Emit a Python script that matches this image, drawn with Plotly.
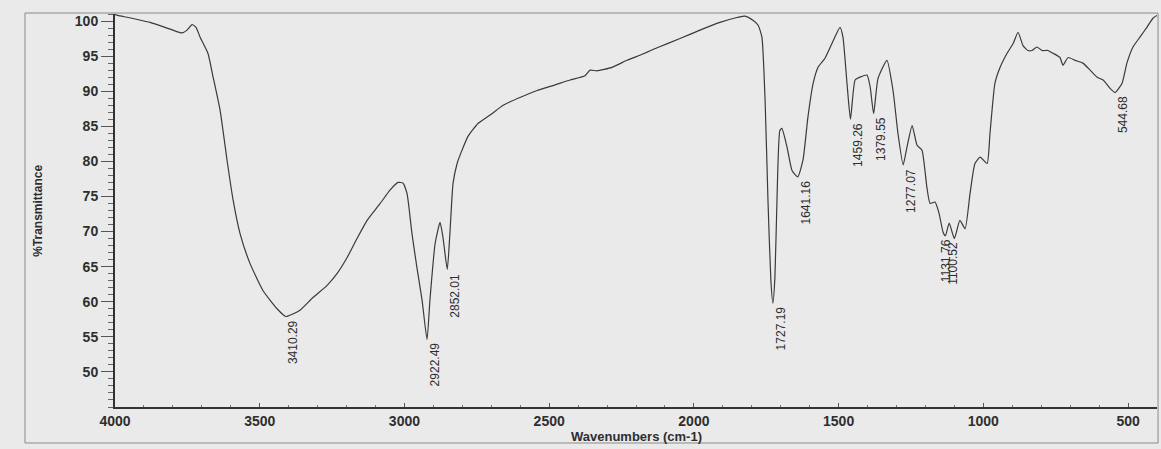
import numpy as np
import plotly.graph_objects as go

# ---- data ----
wavenumber = [4000, 3990, 3879, 3800, 3769, 3751, 3734, 3720, 3706, 3679, 3661, 3637, 3613, 3592,
              3568, 3534, 3489, 3440, 3410, 3361, 3316, 3268, 3233, 3198, 3164, 3129, 3084, 3050,
              3022, 3005, 2991, 2974, 2957, 2939, 2922, 2912, 2894, 2877, 2867, 2852, 2843, 2832,
              2818, 2801, 2780, 2746, 2704, 2659, 2601, 2542, 2487, 2428, 2376, 2359, 2335, 2283,
              2231, 2176, 2127, 2048, 1979, 1910, 1851, 1823, 1796, 1778, 1765, 1754, 1744, 1734,
              1727, 1720, 1713, 1703, 1696, 1678, 1661, 1641, 1623, 1606, 1588, 1571, 1547, 1523,
              1495, 1485, 1471, 1459, 1443, 1426, 1402, 1391, 1379, 1364, 1333, 1312, 1295, 1277,
              1264, 1246, 1229, 1212, 1195, 1184, 1167, 1153, 1139, 1131, 1118, 1100, 1081, 1063,
              1046, 1029, 1011, 987, 977, 960, 942, 918, 897, 880, 863, 846, 832, 815, 797, 777,
              759, 735, 725, 707, 683, 656, 631, 607, 586, 562, 545, 521, 504, 483, 459, 435, 414, 400]
transmittance = [100.9, 100.8, 99.8, 98.7, 98.3, 98.7, 99.5, 99.1, 97.7, 95.4, 92.0, 87.3, 80.2, 74.5,
                 69.7, 65.5, 61.6, 59.0, 57.9, 58.8, 60.6, 62.3, 64.0, 66.3, 69.0, 71.6, 74.0, 75.9,
                 77.0, 76.9, 75.4, 69.7, 64.9, 60.2, 54.6, 60.2, 68.3, 71.3, 69.2, 64.6, 69.7, 76.9,
                 79.7, 81.6, 83.6, 85.4, 86.6, 88.0, 89.1, 90.1, 90.8, 91.6, 92.2, 93.0, 92.9, 93.4,
                 94.4, 95.3, 96.2, 97.5, 98.7, 99.8, 100.5, 100.7, 100.1, 99.4, 97.7, 88.7, 74.4, 63.0,
                 59.8, 63.5, 74.4, 84.4, 84.7, 82.0, 78.7, 77.8, 80.2, 86.3, 91.1, 93.4, 94.7, 96.8,
                 99.1, 97.7, 91.1, 86.0, 91.6, 92.0, 92.3, 90.6, 86.8, 91.8, 94.4, 90.1, 84.0, 79.5,
                 82.0, 85.1, 82.3, 81.6, 76.3, 74.0, 74.2, 72.6, 69.9, 69.4, 71.2, 69.0, 71.6, 70.4,
                 75.4, 79.7, 80.6, 79.7, 84.0, 91.1, 93.4, 95.4, 96.8, 98.4, 96.5, 95.8, 95.8, 96.3,
                 95.8, 95.8, 95.4, 94.8, 93.7, 94.8, 94.4, 94.0, 93.0, 92.0, 91.6, 90.4, 89.8, 91.1,
                 94.0, 96.3, 97.7, 99.1, 100.4, 100.8]
peak_positions = [3410.29, 2922.49, 2852.01, 1727.19, 1641.16, 1459.26, 1379.55,
                  1277.07, 1131.76, 1100.52, 544.68]
x_ticks = [4000, 3500, 3000, 2500, 2000, 1500, 1000, 500]
y_ticks = [50, 55, 60, 65, 70, 75, 80, 85, 90, 95, 100]

BG = "#eaeaea"
INK = "#2e2e2e"

fig = go.Figure()
fig.add_trace(go.Scatter(x=wavenumber, y=transmittance, mode="lines",
                         line=dict(color="#3a3a3a", width=1.2, shape="spline", smoothing=0.5),
                         hoverinfo="x+y", showlegend=False))

# peak labels
wn_rev = np.array(wavenumber[::-1], dtype=float)
tr_rev = np.array(transmittance[::-1], dtype=float)
shifts = {1131.76: 1, 1100.52: -2}
for p in peak_positions:
    yv = float(np.interp(p, wn_rev, tr_rev))
    fig.add_annotation(x=p, y=yv, text=f"{p:.2f}", showarrow=False, textangle=-90,
                       xanchor="center", yanchor="top", xshift=shifts.get(p, 8), yshift=-2,
                       font=dict(family="Liberation Sans Narrow, Liberation Sans, Arial", size=12,
                                 color=INK))

# axis titles
fig.add_annotation(xref="paper", yref="paper", x=0.5, y=-0.076, text="Wavenumbers (cm-1)",
                   showarrow=False, xanchor="center", yanchor="middle",
                   font=dict(family="Liberation Sans, Arial", size=13, color=INK, weight="bold"))
fig.add_annotation(xref="paper", yref="paper", x=-0.0745, y=0.50, text="%Transmittance",
                   showarrow=False, textangle=-90, xanchor="center", yanchor="middle",
                   font=dict(family="Liberation Sans Narrow, Liberation Sans, Arial", size=12,
                             color=INK, weight="bold"))

# outer frame (also top/right of the plot box)
fig.add_shape(type="rect", xref="paper", yref="paper", x0=-0.0864, x1=1.001, y0=-0.0916, y1=1.0025,
              line=dict(color="#8a8a8a", width=1), fillcolor="rgba(0,0,0,0)", layer="above")

fig.update_layout(
    width=1161, height=449,
    margin=dict(l=115, r=4, t=14, b=42),
    paper_bgcolor=BG, plot_bgcolor=BG,
    xaxis=dict(range=[4000, 400], tickvals=x_ticks, ticktext=[str(v) for v in x_ticks],
               showgrid=False, zeroline=False, showline=True, linecolor="#333", linewidth=2,
               ticks="inside", ticklen=4, tickcolor="#555",
               minor=dict(dtick=100, ticks="inside", ticklen=2, tickcolor="#777"),
               tickfont=dict(family="Liberation Sans, Arial", size=14, color=INK, weight="bold")),
    yaxis=dict(range=[45, 101], tickvals=y_ticks, showgrid=False, zeroline=False,
               showline=True, linecolor="#333", linewidth=2,
               ticks="outside", ticklen=12, tickcolor="#555", tickwidth=1,
               minor=dict(dtick=1, ticks="outside", ticklen=5, tickcolor="#666"),
               tickfont=dict(family="Liberation Sans, Arial", size=14, color=INK, weight="bold")),
)

fig.write_html("out.html")
